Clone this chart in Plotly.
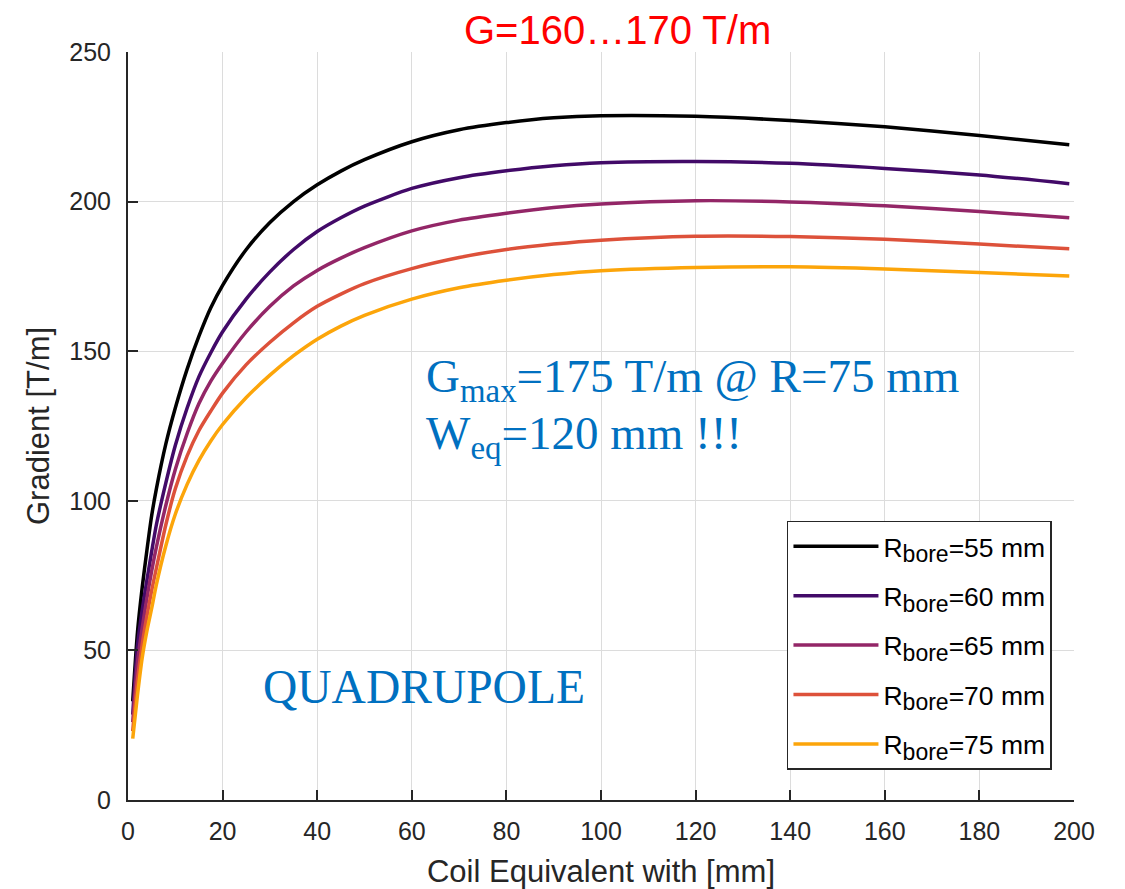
import plotly.graph_objects as go

# Coil equivalent width [mm]
coil_width = [1, 2, 3, 4, 5, 6, 8, 10, 12.5, 15, 17.5, 20, 25, 30, 35, 40, 45, 50, 60, 70, 80, 90, 100, 120, 140, 160, 180, 199]

# Gradient [T/m] for each bore radius
g_r55 = [33, 56, 71, 83.5, 95, 104, 119, 131, 144, 155, 164.5, 172, 184, 193, 200, 205.6, 210.2, 214, 220, 224, 226.4, 228, 228.7, 228.5, 227.1, 225.0, 222.1, 219.0]
g_r60 = [28.5, 51.5, 63.5, 73.5, 83, 92, 106, 118.5, 131, 141.5, 149.5, 156.5, 167.5, 176.5, 184, 190, 194.6, 198.5, 204.4, 208, 210.3, 212, 213.0, 213.4, 212.8, 211.1, 208.9, 206.0]
g_r65 = [26, 46, 57.5, 67.5, 76.5, 84.5, 98.5, 110.5, 122.5, 132.5, 140, 146, 156.5, 165, 171.8, 177, 181.1, 184.6, 190.2, 193.8, 196.1, 198, 199.2, 200.3, 199.9, 198.6, 196.7, 194.6]
g_r70 = [23, 40, 52, 61.5, 70, 77.5, 92, 104, 115, 123.5, 130, 136, 145.5, 153, 159.5, 165, 169.1, 172.6, 177.6, 181.3, 184, 185.8, 187.1, 188.4, 188.3, 187.4, 185.8, 184.2]
g_r75 = [20.5, 35, 47.5, 56.5, 64, 72, 85, 95.5, 105.5, 113.5, 120, 125.5, 134.5, 142, 148.5, 154, 158.4, 162, 167.4, 171.2, 173.7, 175.6, 176.9, 178.0, 178.2, 177.5, 176.3, 175.1]

bore_radii = ["55", "60", "65", "70", "75"]
series_values = [g_r55, g_r60, g_r65, g_r70, g_r75]
colors = ["#000000", "#420a68", "#932667", "#dd513a", "#fca50a"]

x_ticks = [0, 20, 40, 60, 80, 100, 120, 140, 160, 180, 200]
y_ticks = [0, 50, 100, 150, 200, 250]

fig = go.Figure()
for i, (r, vals, col) in enumerate(zip(bore_radii, series_values, colors)):
    name = "R<sub><span style='font-size:23px'>bore</span></sub>=" + r + " mm"
    fig.add_trace(go.Scatter(
        x=coil_width, y=vals, mode="lines", name=name, legendgroup=f"g{i}",
        line=dict(color=col, width=3.5, shape="spline", smoothing=0.7),
    ))

sans = "Liberation Sans, Arial, sans-serif"
serif = "Liberation Serif, Times New Roman, serif"
axis_font = dict(family=sans, size=25, color="#262626")
title_font = dict(family=sans, size=31, color="#262626")

fig.update_layout(
    width=1117, height=881,
    margin=dict(l=120, r=51, t=44, b=89, autoexpand=False),
    paper_bgcolor="white", plot_bgcolor="white",
    showlegend=True,
    legend=dict(
        x=0.9767, y=0.373, xanchor="right", yanchor="top",
        bgcolor="white", bordercolor="#262626", borderwidth=1.5,
        font=dict(family=sans, size=26.5, color="#000000"),
        itemwidth=85, tracegroupgap=12,
    ),
    xaxis=dict(
        range=[0, 200], tickvals=x_ticks, ticktext=[str(v) for v in x_ticks],
        showgrid=True, gridcolor="#dcdcdc", gridwidth=1,
        showline=True, linecolor="#262626", linewidth=2,
        ticks="inside", ticklen=10, tickwidth=2, tickcolor="#262626",
        tickfont=axis_font, zeroline=False, ticklabelstandoff=8, automargin=False,
        title=dict(text="Coil Equivalent with [mm]", font=title_font, standoff=18),
    ),
    yaxis=dict(
        range=[0, 250], tickvals=y_ticks, ticktext=[str(v) for v in y_ticks],
        showgrid=True, gridcolor="#dcdcdc", gridwidth=1,
        showline=True, linecolor="#262626", linewidth=2,
        ticks="inside", ticklen=10, tickwidth=2, tickcolor="#262626",
        tickfont=axis_font, zeroline=False, ticklabelstandoff=10, automargin=False,
        title=dict(text="Gradient [T/m]", font=title_font, standoff=10),
    ),
    annotations=[
        dict(text="G=160…170 T/m", xref="paper", yref="paper", x=0.517, y=1.030,
             yanchor="middle", xanchor="center", showarrow=False,
             font=dict(family=sans, size=40, color="#ff0000")),
        dict(text="G<sub>max</sub>=175 T/m @ R=75 mm", xref="paper", yref="paper",
             x=0.313, y=0.5615, xanchor="left", yanchor="middle", showarrow=False,
             font=dict(family=serif, size=47, color="#0070c0")),
        dict(text="W<sub>eq</sub>=120 mm !!!", xref="paper", yref="paper",
             x=0.313, y=0.4858, xanchor="left", yanchor="middle", showarrow=False,
             font=dict(family=serif, size=47, color="#0070c0")),
        dict(text="QUADRUPOLE", xref="paper", yref="paper",
             x=0.1405, y=0.151, xanchor="left", yanchor="middle", showarrow=False,
             font=dict(family=serif, size=47.5, color="#0070c0")),
    ],
)

fig.write_html("out.html")
